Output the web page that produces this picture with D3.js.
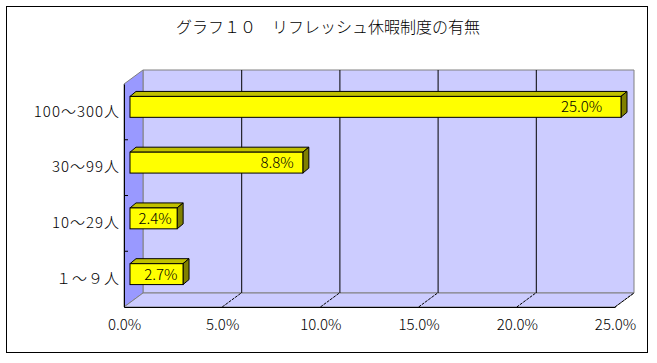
<!DOCTYPE html>
<html>
<head>
<meta charset="utf-8">
<script src="https://cdn.jsdelivr.net/npm/d3@7"></script>
<style>
	body { margin: 0; background: #fff; }
	svg text { font-family: "Noto Sans CJK JP", "Noto Sans", sans-serif; font-weight: 300; fill: #000; }
</style>
</head>
<body>
<div id="chart"></div>
<script>
var title = 'グラフ１０　リフレッシュ休暇制度の有無';
var categories = ['100～300人', '30～99人', '10～29人', '１～９人'];
var values = [25.0, 8.8, 2.4, 2.7];
var x_ticks = [0, 5, 10, 15, 20, 25];

var width = 657;
var height = 363;

// 3d offsets: wall depth and bar depth
var depth = {dx: 19, dy: -14};
var bar_front = {dx: 6, dy: -5};
var bar_back = {dx: 12, dy: -10};

var svg = d3.select('#chart')
	.append('svg')
	.attr('width', width)
	.attr('height', height);

// frame
svg.append('rect')
	.attr('x', 6.5)
	.attr('y', 6.5)
	.attr('width', 641)
	.attr('height', 346)
	.style('fill', 'white')
	.style('stroke', 'black')
	.style('stroke-width', 1);

// title
svg.append('text')
	.attr('x', 328)
	.attr('y', 33)
	.attr('text-anchor', 'middle')
	.style('font-size', '16px')
	.text(title);

var x = d3.scaleLinear()
	.domain([0, 25])
	.range([124, 615]);

var y = d3.scaleBand()
	.domain(categories)
	.range([84, 307])
	.paddingInner(0.625)
	.paddingOuter(0.3125);

var x0 = x(0), x1 = x(25);
var y0 = y.range()[0], y1 = y.range()[1];

var pts = a => a.map(p => p.join(',')).join(' ');

// back wall
svg.append('polygon')
	.attr('points', pts([
		[x0 + depth.dx, y0 + depth.dy], [x1 + depth.dx, y0 + depth.dy],
		[x1 + depth.dx, y1 + depth.dy], [x0 + depth.dx, y1 + depth.dy]]))
	.style('fill', '#ccccff')
	.style('stroke', '#808080');

// side wall
svg.append('polygon')
	.attr('points', pts([
		[x0, y0], [x0 + depth.dx, y0 + depth.dy],
		[x0 + depth.dx, y1 + depth.dy], [x0, y1]]))
	.style('fill', '#9999ff')
	.style('stroke', '#808080');

// floor
svg.append('polygon')
	.attr('points', pts([
		[x0, y1], [x1, y1],
		[x1 + depth.dx, y1 + depth.dy], [x0 + depth.dx, y1 + depth.dy]]))
	.style('fill', '#ccccff')
	.style('stroke', '#808080');

// grid lines on back wall
svg.append('g')
	.selectAll('line')
	.data(x_ticks.filter(d => d > 0 && d < 25))
	.enter()
	.append('line')
		.attr('x1', d => x(d) + depth.dx + 0.5)
		.attr('x2', d => x(d) + depth.dx + 0.5)
		.attr('y1', y0 + depth.dy)
		.attr('y2', y1 + depth.dy)
		.style('stroke', 'black');

// floor ticks
svg.append('g')
	.selectAll('line')
	.data(x_ticks.filter(d => d > 0))
	.enter()
	.append('line')
		.attr('x1', d => x(d))
		.attr('x2', d => x(d) + depth.dx)
		.attr('y1', y1)
		.attr('y2', y1 + depth.dy)
		.style('stroke', 'black')
		.style('stroke-dasharray', '3,1');

// bars
var bars = svg.append('g')
	.selectAll('g')
	.data(categories.map((c, i) => ({cat: c, val: values[i]})))
	.enter()
	.append('g');

var bx0 = x0 + bar_front.dx;
var bar_dx = bar_back.dx - bar_front.dx;
var bar_dy = bar_back.dy - bar_front.dy;

// top face
bars.append('polygon')
	.attr('points', d => {
		var l = bx0, r = x(d.val) + bar_front.dx, t = y(d.cat) + bar_front.dy;
		return pts([[l, t], [l + bar_dx, t + bar_dy], [r + bar_dx, t + bar_dy], [r, t]]);
	})
	.style('fill', '#c0c000')
	.style('stroke', 'black')
	.style('stroke-linejoin', 'round');

// side face
bars.append('polygon')
	.attr('points', d => {
		var r = x(d.val) + bar_front.dx, t = y(d.cat) + bar_front.dy, b = t + y.bandwidth();
		return pts([[r, t], [r + bar_dx, t + bar_dy], [r + bar_dx, b + bar_dy], [r, b]]);
	})
	.style('fill', '#808000')
	.style('stroke', 'black')
	.style('stroke-linejoin', 'round');

// front face
bars.append('rect')
	.attr('x', bx0)
	.attr('y', d => y(d.cat) + bar_front.dy)
	.attr('width', d => x(d.val) - x0)
	.attr('height', y.bandwidth())
	.style('fill', '#ffff00')
	.style('stroke', 'black');

// value labels
bars.append('text')
	.attr('x', d => bx0 + (x(d.val) - x0) * 0.97 - 4)
	.attr('y', d => y(d.cat) + bar_front.dy + y.bandwidth() / 2)
	.attr('dy', '0.36em')
	.attr('text-anchor', 'end')
	.style('font-size', '15px')
	.text(d => d.val.toFixed(1) + '%');

// x axis
var x_axis = svg.append('g')
	.attr('transform', 'translate(0,' + y1 + ')')
	.call(d3.axisBottom(x)
		.tickValues(x_ticks)
		.tickFormat(d => d.toFixed(1) + '%')
		.tickSize(0)
		.tickPadding(12));
x_axis.select('.domain').style('stroke', 'black');
x_axis.selectAll('text').style('font-size', '15px');

// y axis
var y_axis = svg.append('g')
	.attr('transform', 'translate(' + x0 + ',0)')
	.call(d3.axisLeft(y)
		.tickSize(0)
		.tickPadding(4));
y_axis.select('.domain').style('stroke', 'black');
y_axis.selectAll('text')
	.style('font-size', '15px')
	.style('letter-spacing', '1px');

// y ticks at band edges
svg.append('g')
	.selectAll('line')
	.data(categories.slice(1))
	.enter()
	.append('line')
		.attr('x1', x0)
		.attr('x2', x0 + 4)
		.attr('y1', d => y(d) - y.step() * y.paddingInner() / 2)
		.attr('y2', d => y(d) - y.step() * y.paddingInner() / 2)
		.style('stroke', 'black');
</script>
</body>
</html>
